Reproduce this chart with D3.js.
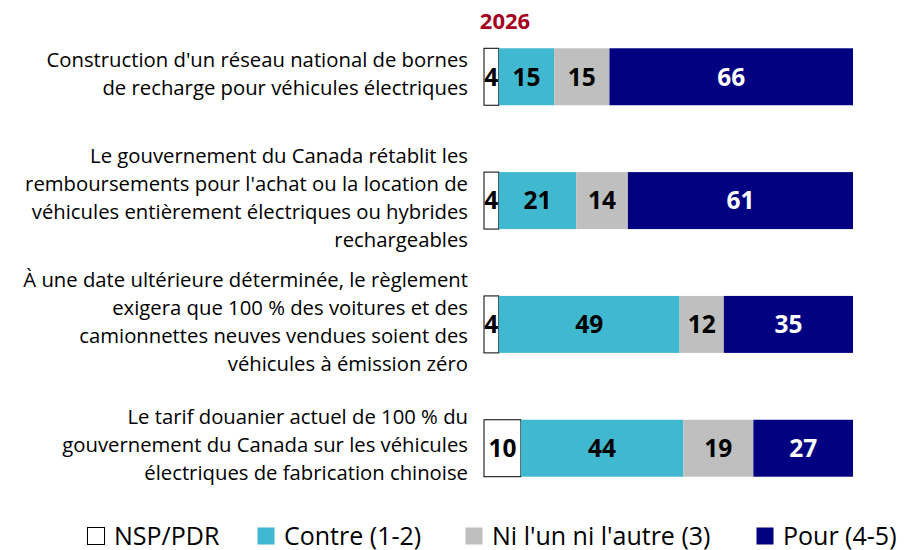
<!DOCTYPE html>
<html>
<head>
<meta charset="utf-8">
<script src="https://cdn.jsdelivr.net/npm/d3@7"></script>
<style>
  body { margin: 0; background: #fff; }
  svg { font-family: "Open Sans", Lato, sans-serif; }
</style>
</head>
<body>
<svg id="chart" width="909" height="550"></svg>
<script>
const categories = [
  ["Construction d'un réseau national de bornes", "de recharge pour véhicules électriques"],
  ["Le gouvernement du Canada rétablit les", "remboursements pour l'achat ou la location de", "véhicules entièrement électriques ou hybrides", "rechargeables"],
  ["À une date ultérieure déterminée, le règlement", "exigera que 100 % des voitures et des", "camionnettes neuves vendues soient des", "véhicules à émission zéro"],
  ["Le tarif douanier actuel de 100 % du", "gouvernement du Canada sur les véhicules", "électriques de fabrication chinoise"]
];
const seriesNames = ["NSP/PDR", "Contre (1-2)", "Ni l'un ni l'autre (3)", "Pour (4-5)"];
const nsp = [4, 4, 4, 10];
const contre = [15, 21, 49, 44];
const neutre = [15, 14, 12, 19];
const pour = [66, 61, 35, 27];
const title = "2026";

const colors = ["#ffffff", "#40b8cf", "#bfbfbf", "#000080"];
const textColors = ["#000", "#000", "#000", "#fff"];

const svg = d3.select('#chart');
const series = [nsp, contre, neutre, pour];
const ids = categories.map((c, i) => i);

const rows = ids.map(i => {
  const r = {id: i};
  seriesNames.forEach((s, k) => r[s] = series[k][i]);
  return r;
});

const stack = d3.stack().keys(seriesNames)(rows);

const x = d3.scaleLinear().domain([0, 100]).range([484, 853]);
const y = d3.scaleBand().domain(ids).range([0, 525]).paddingInner(0.54).paddingOuter(0.39);

svg.append('text')
  .attr('x', 505).attr('y', 29)
  .attr('text-anchor', 'middle')
  .attr('fill', '#a50021')
  .attr('font-weight', 'bold')
  .attr('font-size', 22)
  .text(title);

const layers = svg.selectAll('g.layer')
  .data(stack)
  .enter().append('g')
  .attr('class', 'layer');

layers.selectAll('rect')
  .data((d, k) => d.map(p => ({p: p, k: k})))
  .enter().append('rect')
  .attr('x', d => x(d.p[0]))
  .attr('y', d => y(d.p.data.id))
  .attr('width', d => x(d.p[1]) - x(d.p[0]))
  .attr('height', y.bandwidth())
  .attr('fill', d => colors[d.k])
  .attr('stroke', d => d.k === 0 ? '#000' : 'none')
  .attr('stroke-width', 1);

layers.selectAll('text')
  .data((d, k) => d.map(p => ({p: p, k: k})))
  .enter().append('text')
  .attr('x', d => (x(d.p[0]) + x(d.p[1])) / 2)
  .attr('y', d => y(d.p.data.id) + y.bandwidth() / 2)
  .attr('dy', '0.36em')
  .attr('text-anchor', 'middle')
  .attr('font-weight', 'bold')
  .attr('font-size', 24.5)
  .attr('fill', d => textColors[d.k])
  .text(d => d.p[1] - d.p[0]);

// category labels
const lineH = 28;
svg.selectAll('text.cat')
  .data(categories)
  .enter().append('text')
  .attr('class', 'cat')
  .attr('text-anchor', 'end')
  .attr('font-size', 20.3)
  .attr('fill', '#000')
  .each(function (lines, i) {
    const cy = y(i) + y.bandwidth() / 2 - 3;
    const top = cy - (lines.length - 1) * lineH / 2;
    d3.select(this).selectAll('tspan')
      .data(lines)
      .enter().append('tspan')
      .attr('x', 468)
      .attr('y', (l, j) => top + j * lineH)
      .attr('dy', '0.35em')
      .text(l => l);
  });

// legend
const legendX = [87, 257, 465, 756];
const legend = svg.selectAll('g.legend')
  .data(seriesNames)
  .enter().append('g')
  .attr('class', 'legend')
  .attr('transform', (d, k) => 'translate(' + legendX[k] + ',536)');

legend.append('rect')
  .attr('x', 0.5).attr('y', -8.5)
  .attr('width', 17).attr('height', 17)
  .attr('fill', (d, k) => colors[k])
  .attr('stroke', (d, k) => k === 0 ? '#000' : 'none');

legend.append('text')
  .attr('x', 27).attr('y', 8.5)
  .attr('font-size', 25)
  .text(d => d);
</script>
</body>
</html>
